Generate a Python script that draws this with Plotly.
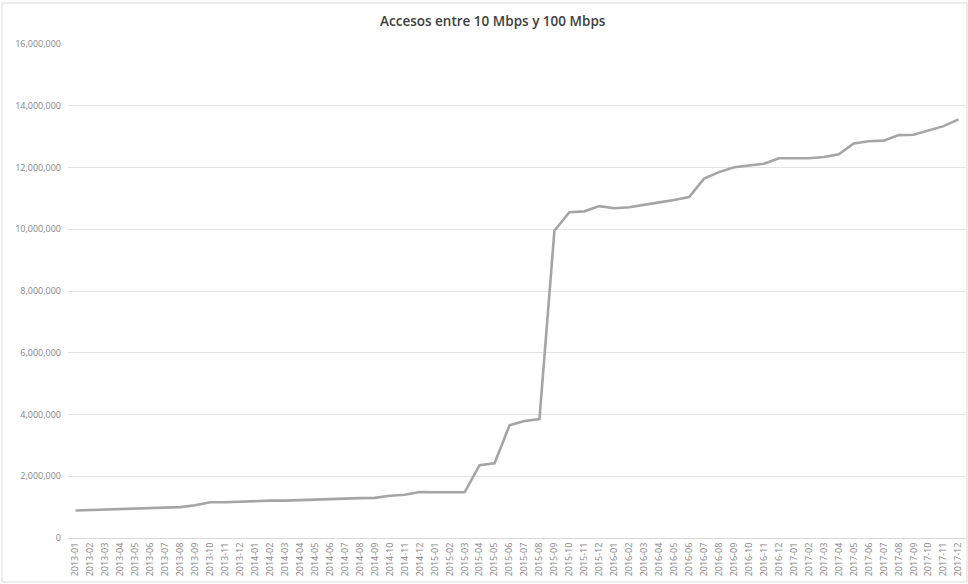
import plotly.graph_objects as go

# Monthly periods 2013-01 .. 2017-12
months = [f"{y}-{m:02d}" for y in range(2013, 2018) for m in range(1, 13)]

# Accesses between 10 and 100 Mbps
accesos = [
    890000, 905000, 920000, 935000, 950000, 955000, 980000, 1000000, 1060000, 1160000, 1160000, 1180000,
    1200000, 1210000, 1210000, 1230000, 1230000, 1250000, 1270000, 1290000, 1300000, 1370000, 1400000, 1490000,
    1480000, 1480000, 1480000, 2360000, 2420000, 3650000, 3790000, 3850000, 9950000, 10550000, 10580000, 10750000,
    10680000, 10710000, 10800000, 10870000, 10950000, 11040000, 11640000, 11850000, 12010000, 12060000, 12120000, 12300000,
    12300000, 12300000, 12340000, 12430000, 12780000, 12850000, 12870000, 13050000, 13060000, 13200000, 13340000, 13560000,
]

title_text = "Accesos entre 10 Mbps y 100 Mbps"
y_ticks = list(range(0, 16000001, 2000000))

fig = go.Figure(
    go.Scatter(
        x=months,
        y=accesos,
        mode="lines",
        line=dict(color="#a5a5a5", width=2.6),
        hoverinfo="x+y",
    )
)

fig.update_layout(
    width=968,
    height=584,
    margin=dict(l=68, r=2, t=44, b=46),
    paper_bgcolor="white",
    plot_bgcolor="white",
    showlegend=False,
    font=dict(family="Open Sans, Arial, sans-serif", color="#808080"),
    title=dict(
        text=title_text,
        x=0.509,
        xanchor="center",
        y=1 - 21 / 584,
        yanchor="middle",
        font=dict(size=13.5, color="#404040", family="Open Sans, Arial, sans-serif", weight=600),
    ),
    xaxis=dict(
        type="category",
        range=[-0.5, len(months) - 0.5],
        tickangle=-90,
        tickfont=dict(size=9, color="#858585"),
        showgrid=False,
        showline=True,
        linecolor="#d9d9d9",
        linewidth=1,
        ticks="",
        fixedrange=True,
    ),
    yaxis=dict(
        range=[0, 16000000],
        tickvals=y_ticks,
        ticktext=[f"{v:,}" for v in y_ticks],
        tickfont=dict(size=9, color="#858585"),
        showgrid=True,
        gridcolor="#e3e3e3",
        gridwidth=1,
        zeroline=False,
        ticks="",
        ticklabelstandoff=6,
        fixedrange=True,
    ),
    shapes=[
        dict(
            type="rect",
            xref="paper",
            yref="paper",
            x0=(2 - 68) / 898,
            x1=(967 - 68) / 898,
            y0=(538 - 582) / 494,
            y1=(538 - 3) / 494,
            line=dict(color="#d9d9d9", width=1),
            fillcolor="rgba(0,0,0,0)",
            layer="below",
        )
    ],
)

fig.write_html("out.html")
